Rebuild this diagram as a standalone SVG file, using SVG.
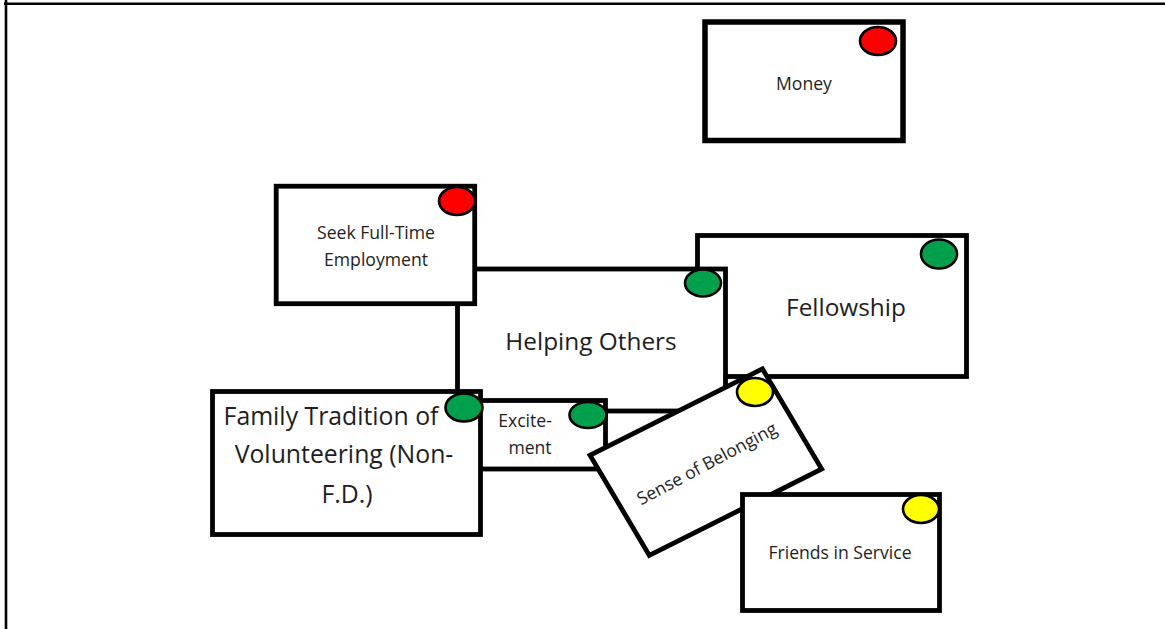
<svg xmlns="http://www.w3.org/2000/svg" width="1165" height="629" viewBox="0 0 1165 629">
<style>
.box{fill:#fff;stroke:#000;stroke-width:4.8}
.dot{stroke:#000;stroke-width:2.6}
.g{fill:#00a04c}.r{fill:#ff0000}.y{fill:#ffff00}
text{font-family:"Open Sans","Noto Sans","DejaVu Sans",sans-serif;fill:#1e1e1e;text-anchor:middle}
.s{font-size:17.6px}.l{font-size:24.4px}.f{font-size:24.8px}
</style>
<rect width="1165" height="629" fill="#fff"/>
<g id="frame">
<line x1="6" y1="0" x2="6" y2="629" stroke="#000" stroke-width="2.6"/>
<line x1="4" y1="3.8" x2="1165" y2="3.8" stroke="#000" stroke-width="2.6"/>
</g>
<g id="connectors"></g>
<g id="fellowship">
<rect class="box" x="697.5" y="235.5" width="269" height="141"/>
<ellipse class="dot g" cx="939" cy="254" rx="18" ry="14.5"/>
<text class="l" x="846" y="316">Fellowship</text>
</g>
<g id="helping-others">
<rect class="box" x="457.5" y="269" width="268" height="142"/>
<ellipse class="dot g" cx="703" cy="283" rx="18" ry="13.5"/>
<text class="l" x="591" y="350">Helping Others</text>
</g>
<g id="seek-employment">
<rect class="box" x="276.2" y="186.2" width="198.5" height="117.5"/>
<ellipse class="dot r" cx="457" cy="201" rx="18" ry="14"/>
<text class="s" x="376" y="239">Seek Full-Time</text>
<text class="s" x="376" y="266">Employment</text>
</g>
<g id="excitement">
<rect class="box" x="476" y="400.5" width="129.5" height="68.5"/>
<ellipse class="dot g" cx="588" cy="415" rx="18.5" ry="13"/>
<text class="s" x="525" y="427">Excite-</text>
<text class="s" x="530" y="454">ment</text>
</g>
<g id="family-tradition">
<rect class="box" x="212.5" y="391.5" width="268" height="143"/>
<ellipse class="dot g" cx="464" cy="407.5" rx="18.5" ry="14"/>
<text class="f" x="331" y="425">Family Tradition of</text>
<text class="f" x="344" y="463">Volunteering (Non-</text>
<text class="f" x="347" y="503">F.D.)</text>
</g>
<g id="sense-of-belonging">
<rect class="box" x="-96.4" y="-58.2" width="192.8" height="116.4" transform="matrix(0.894 -0.448 0.509 0.861 705.85 462.15)"/>
<text class="s" transform="translate(706 462) rotate(-28)" x="0" y="8">Sense of Belonging</text>
<ellipse class="dot y" cx="755" cy="392" rx="18" ry="14"/>
</g>
<g id="friends-in-service">
<rect class="box" x="742.5" y="494.5" width="197" height="116"/>
<ellipse class="dot y" cx="921" cy="509" rx="18" ry="14"/>
<text class="s" x="840" y="559">Friends in Service</text>
</g>
<g id="money">
<rect class="box" x="705" y="22" width="198" height="118.5" style="stroke-width:5.5"/>
<ellipse class="dot r" cx="878" cy="41" rx="18" ry="14"/>
<text class="s" x="804" y="90">Money</text>
</g>
</svg>
